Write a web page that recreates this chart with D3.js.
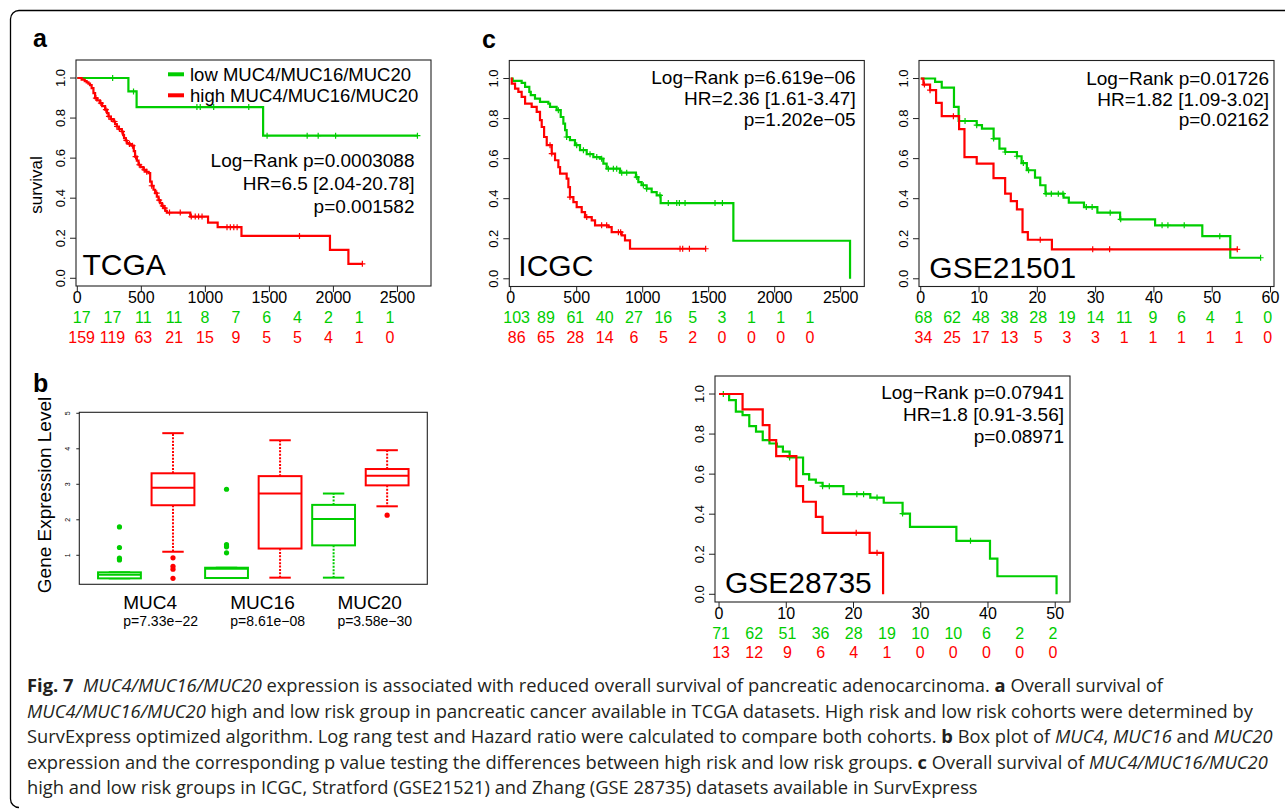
<!DOCTYPE html>
<html>
<head>
<meta charset="utf-8">
<script src="https://cdn.jsdelivr.net/npm/d3@7"></script>
<style>
  body { margin: 0; background: #fff; }
  svg { display: block; }
  text { font-family: "Liberation Sans", Arial, Helvetica, sans-serif; }
</style>
</head>
<body>
<svg id="fig" width="1285" height="810"></svg>
<script>
// ---------------- data ----------------
// TCGA (days)
const tcgaTicks = [0, 500, 1000, 1500, 2000, 2500];
const tcgaLowTimes = [399, 463, 1451];
const tcgaLowSurv = [0.933, 0.855, 0.712];
const tcgaLowEnd = 2656;
const tcgaLowCensor = [276, 439, 934, 960, 1065, 1339, 1482, 1795, 1881, 2017, 2656];
const tcgaHighTimes = [34, 58, 73, 87, 99, 112, 126, 139, 155, 177, 194, 217, 232, 243, 262, 282, 295, 308,
  325, 347, 358, 365, 378, 387, 407, 425, 441, 451, 465, 478, 494, 516, 538, 556, 569, 581, 595, 608, 621,
  634, 647, 661, 673, 688, 699, 882, 1021, 1096, 1282, 1973, 2117];
const tcgaHighSurv = [0.992, 0.985, 0.978, 0.972, 0.965, 0.95, 0.925, 0.90, 0.888, 0.875, 0.86, 0.842, 0.825,
  0.808, 0.795, 0.783, 0.77, 0.758, 0.745, 0.733, 0.715, 0.70, 0.688, 0.675, 0.67, 0.662, 0.635, 0.608, 0.588,
  0.567, 0.555, 0.542, 0.532, 0.525, 0.483, 0.462, 0.442, 0.425, 0.408, 0.39, 0.375, 0.362, 0.35, 0.337, 0.328,
  0.308, 0.278, 0.255, 0.2115, 0.142, 0.072];
const tcgaHighEnd = 2226;
const tcgaHighCensor = [145, 184, 223, 247, 266, 291, 310, 329, 349, 383, 407, 431, 455, 484, 523, 542, 581,
  620, 639, 668, 683, 720, 804, 890, 921, 947, 974, 1169, 1195, 1222, 1248, 1735, 2226];
const tcgaRiskLow = [17, 17, 11, 11, 8, 7, 6, 4, 2, 1, 1];
const tcgaRiskHigh = [159, 119, 63, 21, 15, 9, 5, 5, 4, 1, 0];
const tcgaStats = ["Log\u2212Rank p=0.0003088", "HR=6.5 [2.04-20.78]", "p=0.001582"];

// ICGC (days)
const icgcTicks = [0, 500, 1000, 1500, 2000, 2500];
const icgcLowTimes = [15, 83, 109, 141, 152, 184, 222, 285, 298, 348, 379, 399, 412, 424, 449, 487, 525, 576,
  626, 677, 702, 727, 828, 949, 967, 992, 1030, 1068, 1106, 1136, 1687, 2571];
const icgcLowSurv = [0.988, 0.978, 0.958, 0.933, 0.917, 0.90, 0.883, 0.875, 0.858, 0.842, 0.808, 0.775, 0.742,
  0.708, 0.692, 0.667, 0.642, 0.622, 0.608, 0.60, 0.575, 0.55, 0.53, 0.508, 0.483, 0.467, 0.45, 0.433, 0.417,
  0.378, 0.19, 0.0];
const icgcLowEnd = 2571;
const icgcLowCensor = [361, 424, 500, 551, 601, 652, 689, 740, 778, 803, 841, 879, 955, 1005, 1030, 1131, 1194,
  1258, 1278, 1321, 1548, 1604];
const icgcHighTimes = [8, 33, 58, 83, 109, 159, 197, 222, 235, 253, 273, 311, 336, 361, 374, 424, 437, 449, 475,
  500, 538, 563, 614, 639, 740, 765, 841, 866, 904];
const icgcHighSurv = [0.975, 0.95, 0.933, 0.908, 0.875, 0.858, 0.833, 0.792, 0.758, 0.708, 0.667, 0.625, 0.592,
  0.558, 0.525, 0.50, 0.458, 0.408, 0.383, 0.358, 0.333, 0.308, 0.292, 0.267, 0.258, 0.233, 0.217, 0.192, 0.15];
const icgcHighEnd = 1477;
const icgcHighCensor = [298, 311, 449, 576, 689, 727, 816, 833, 1283, 1303, 1354, 1477];
const icgcRiskLow = [103, 89, 61, 40, 27, 16, 5, 3, 1, 1, 1];
const icgcRiskHigh = [86, 65, 28, 14, 6, 5, 2, 0, 0, 0, 0];
const icgcStats = ["Log\u2212Rank p=6.619e\u221206", "HR=2.36 [1.61-3.47]", "p=1.202e\u221205"];

// GSE21501 (months)
const g215Ticks = [0, 10, 20, 30, 40, 50, 60];
const g215LowTimes = [2.46, 3.6, 5.7, 6.5, 9.6, 10.5, 12.5, 13.5, 14.5, 16.5, 17.3, 18.2, 19.6, 20.5, 21.4,
  24.5, 25.4, 28, 30.3, 34.2, 40.2, 48.3, 53.1];
const g215LowSurv = [0.983, 0.955, 0.858, 0.788, 0.767, 0.75, 0.70, 0.65, 0.633, 0.612, 0.578, 0.542, 0.505,
  0.467, 0.425, 0.405, 0.38, 0.358, 0.33, 0.297, 0.267, 0.213, 0.105];
const g215LowEnd = 58.3;
const g215LowCensor = [7.6, 9.6, 12.5, 14.5, 16.5, 17.6, 18.5, 21.5, 22.4, 23.6, 24.4, 28.4, 29.4, 32.5, 34.3,
  41.4, 42.4, 45.2, 51.3, 58.3];
const g215HighTimes = [0.46, 1.6, 2.63, 3.6, 6.58, 7.5, 9.6, 12.48, 14.48, 15.45, 16.5, 17.46, 18.37, 22.5];
const g215HighSurv = [0.97, 0.942, 0.878, 0.812, 0.747, 0.608, 0.575, 0.503, 0.425, 0.388, 0.347, 0.233, 0.195, 0.147];
const g215HighEnd = 54.3;
const g215HighCensor = [0.63, 1.6, 5.6, 20.5, 29.5, 32.4, 54.3];
const g215RiskLow = [68, 62, 48, 38, 28, 19, 14, 11, 9, 6, 4, 1, 0];
const g215RiskHigh = [34, 25, 17, 13, 5, 3, 3, 1, 1, 1, 1, 1, 0];
const g215Stats = ["Log\u2212Rank p=0.01726", "HR=1.82 [1.09-3.02]", "p=0.02162"];

// GSE28735 (months)
const g287Ticks = [0, 10, 20, 30, 40, 50];
const g287LowTimes = [1.5, 2.5, 3.5, 4.5, 5.5, 6.5, 7.5, 8.6, 9.5, 10.5, 12.5, 13.4, 14.4, 15.4, 18.5, 22.5,
  24.5, 27.3, 28.4, 35.3, 40.3, 41.4, 50.2];
const g287LowSurv = [0.97, 0.912, 0.895, 0.84, 0.812, 0.77, 0.753, 0.737, 0.712, 0.683, 0.60, 0.573, 0.557,
  0.54, 0.50, 0.483, 0.457, 0.403, 0.337, 0.267, 0.178, 0.09, 0.0];
const g287LowEnd = 50.2;
const g287LowCensor = [0.64, 10.5, 15.4, 16.4, 20.5, 21.5, 23.5, 27.3, 37.4];
const g287HighTimes = [3.5, 6.5, 7.5, 8.5, 11.5, 12.5, 14.4, 15.4, 22.4, 24.4];
const g287HighSurv = [0.923, 0.845, 0.77, 0.69, 0.54, 0.462, 0.387, 0.307, 0.207, 0.0];
const g287HighEnd = 24.4;
const g287HighCensor = [20.4, 23.5];
const g287RiskLow = [71, 62, 51, 36, 28, 19, 10, 10, 6, 2, 2];
const g287RiskHigh = [13, 12, 9, 6, 4, 1, 0, 0, 0, 0, 0];
const g287Stats = ["Log\u2212Rank p=0.07941", "HR=1.8 [0.91-3.56]", "p=0.08971"];

// Box plot: [lower whisker, Q1, median, Q3, upper whisker]
const boxGenes = ["MUC4", "MUC16", "MUC20"];
const boxPvalues = ["p=7.33e\u221222", "p=8.61e\u221208", "p=3.58e\u221230"];
const boxLowStats = [[0.35, 0.35, 0.45, 0.52, 0.52], [0.36, 0.36, 0.62, 0.65, 0.65], [0.37, 1.28, 2.02, 2.42, 2.74]];
const boxHighStats = [[1.10, 2.41, 2.90, 3.31, 4.44], [0.37, 1.19, 2.74, 3.23, 4.24], [2.38, 2.97, 3.24, 3.43, 3.96]];
const boxLowOutliers = [[1.80, 1.22, 0.92, 0.87], [2.86, 1.30, 1.24, 1.07], []];
const boxHighOutliers = [[0.93, 0.69, 0.61, 0.35], [], [2.13]];
const boxTicks = [1, 2, 3, 4, 5];

const legendLabels = ["low MUC4/MUC16/MUC20", "high MUC4/MUC16/MUC20"];
const survTicks = [0, 0.2, 0.4, 0.6, 0.8, 1.0];

// ---------------- drawing ----------------
const GREEN = "#00cd00", RED = "#ff0000", INK = "#000";
const svg = d3.select("#fig");
svg.append("rect").attr("width", 1285).attr("height", 810).attr("fill", "#fff");

// figure frame (rounded top-left corner)
svg.append("path")
  .attr("d", "M1285,10.5 H19 A8.5,8.5 0 0 0 10.5,19 V799 A8.5,8.5 0 0 0 19,807.5")
  .attr("fill", "none").attr("stroke", "#000").attr("stroke-width", 1.3);

function stepPoints(times, surv, end) {
  const pts = [[0, 1]];
  times.forEach((t, i) => pts.push([t, surv[i]]));
  pts.push([end, surv[surv.length - 1]]);
  return pts;
}
function survAt(times, surv, t) {
  const i = d3.bisectRight(times, t);
  return i === 0 ? 1 : surv[i - 1];
}

const BW = 355, BH = 226;

function drawKM(p) {
  const g = svg.append("g");
  const x = d3.scaleLinear().domain(p.xDomain).range([p.left, p.left + BW]);
  const y = d3.scaleLinear().domain([-0.0385, 1.09]).range([p.top + BH, p.top]);
  const bottom = p.top + BH;

  g.append("rect").attr("x", p.left).attr("y", p.top).attr("width", BW).attr("height", BH)
    .attr("fill", "none").attr("stroke", "#222").attr("stroke-width", 1.1);

  const xa = g.append("g");
  xa.selectAll("line").data(p.xTicks).join("line")
    .attr("x1", d => x(d)).attr("x2", d => x(d)).attr("y1", bottom).attr("y2", bottom + 6)
    .attr("stroke", "#222").attr("stroke-width", 1);
  xa.selectAll("text").data(p.xTicks).join("text")
    .attr("x", d => x(d)).attr("y", bottom + 11).attr("dy", "0.36em")
    .attr("text-anchor", "middle").attr("font-size", 16).attr("fill", INK).text(d => d);

  const ya = g.append("g");
  ya.selectAll("line").data(survTicks).join("line")
    .attr("x1", p.left).attr("x2", p.left - 6).attr("y1", d => y(d)).attr("y2", d => y(d))
    .attr("stroke", "#222").attr("stroke-width", 1);
  ya.selectAll("text").data(survTicks).join("text")
    .attr("transform", d => `translate(${p.left - 16},${y(d)}) rotate(-90)`)
    .attr("dy", "0.36em").attr("text-anchor", "middle").attr("font-size", 13).attr("fill", INK)
    .text(d => d.toFixed(1));

  const line = d3.line().x(d => x(d[0])).y(d => y(d[1])).curve(d3.curveStepAfter);
  p.series.forEach(s => {
    g.append("path").datum(stepPoints(s.times, s.surv, s.end)).attr("d", line)
      .attr("fill", "none").attr("stroke", s.color).attr("stroke-width", 2.2);
    g.append("g").selectAll("path").data(s.censor).join("path")
      .attr("d", t => {
        const cx = x(t), cy = y(survAt(s.times, s.surv, t));
        return `M${cx - 3},${cy}H${cx + 3}M${cx},${cy - 3}V${cy + 3}`;
      })
      .attr("stroke", s.color).attr("stroke-width", 1.2);
  });

  g.selectAll("text.stat").data(p.stats).join("text").attr("class", "stat")
    .attr("x", p.left + BW - p.statsInset).attr("y", (d, i) => p.top + p.statsY0 + i * p.statsDy)
    .attr("dy", "0.36em").attr("text-anchor", "end").attr("font-size", 19).attr("fill", INK).text(d => d);

  g.append("text").attr("x", p.left + p.nameDx).attr("y", p.top + p.nameDy)
    .attr("font-size", 30).attr("fill", INK).text(p.name);

  p.series.forEach((s, k) => {
    const n = s.risk.length;
    const rx = d3.scaleLinear().domain([0, n - 1]).range([x(p.riskFrom), x(p.riskTo)]);
    g.append("g").selectAll("text").data(s.risk).join("text")
      .attr("x", (d, i) => rx(i)).attr("y", p.top + p.riskY[k]).attr("dy", "0.36em")
      .attr("text-anchor", "middle").attr("font-size", 16).attr("fill", s.color).text(d => d);
  });
  return { g, x, y };
}

// a: TCGA
const pa = drawKM({
  left: 76, top: 60, xDomain: [-10.2, 2762], xTicks: tcgaTicks,
  series: [
    { times: tcgaLowTimes, surv: tcgaLowSurv, end: tcgaLowEnd, censor: tcgaLowCensor, color: GREEN, risk: tcgaRiskLow },
    { times: tcgaHighTimes, surv: tcgaHighSurv, end: tcgaHighEnd, censor: tcgaHighCensor, color: RED, risk: tcgaRiskHigh }
  ],
  stats: tcgaStats, statsInset: 16.5, statsY0: 100.5, statsDy: 23,
  name: "TCGA", nameDx: 6.5, nameDy: 215,
  riskFrom: 34, riskTo: 2442, riskY: [257.7, 277.3]
});
[GREEN, RED].forEach((c, i) => {
  pa.g.append("line").attr("x1", 168).attr("x2", 184).attr("y1", 74.3 + i * 21).attr("y2", 74.3 + i * 21)
    .attr("stroke", c).attr("stroke-width", 4);
  pa.g.append("text").attr("x", 190).attr("y", 74.3 + i * 21).attr("dy", "0.36em")
    .attr("font-size", 18.5).attr("fill", INK).text(legendLabels[i]);
});
svg.append("text").attr("transform", "translate(36,185) rotate(-90)").attr("dy", "0.36em")
  .attr("text-anchor", "middle").attr("font-size", 17).attr("fill", INK).text("survival");

// c: ICGC, GSE21501, GSE28735
drawKM({
  left: 509.3, top: 60.5, xDomain: [-10.6, 2679], xTicks: icgcTicks,
  series: [
    { times: icgcLowTimes, surv: icgcLowSurv, end: icgcLowEnd, censor: icgcLowCensor, color: GREEN, risk: icgcRiskLow },
    { times: icgcHighTimes, surv: icgcHighSurv, end: icgcHighEnd, censor: icgcHighCensor, color: RED, risk: icgcRiskHigh }
  ],
  stats: icgcStats, statsInset: 8.6, statsY0: 16.2, statsDy: 21.4,
  name: "ICGC", nameDx: 9, nameDy: 215.5,
  riskFrom: 45, riskTo: 2268, riskY: [256.8, 276.8]
});
drawKM({
  left: 919, top: 60.5, xDomain: [-0.3, 60.6], xTicks: g215Ticks,
  series: [
    { times: g215LowTimes, surv: g215LowSurv, end: g215LowEnd, censor: g215LowCensor, color: GREEN, risk: g215RiskLow },
    { times: g215HighTimes, surv: g215HighSurv, end: g215HighEnd, censor: g215HighCensor, color: RED, risk: g215RiskHigh }
  ],
  stats: g215Stats, statsInset: 5, statsY0: 17.8, statsDy: 20.6,
  name: "GSE21501", nameDx: 10.3, nameDy: 217.5,
  riskFrom: 0.46, riskTo: 59.5, riskY: [256.8, 276.8]
});
drawKM({
  left: 715, top: 376, xDomain: [-0.6, 52.2], xTicks: g287Ticks,
  series: [
    { times: g287LowTimes, surv: g287LowSurv, end: g287LowEnd, censor: g287LowCensor, color: GREEN, risk: g287RiskLow },
    { times: g287HighTimes, surv: g287HighSurv, end: g287HighEnd, censor: g287HighCensor, color: RED, risk: g287RiskHigh }
  ],
  stats: g287Stats, statsInset: 6, statsY0: 15.7, statsDy: 22.2,
  name: "GSE28735", nameDx: 10, nameDy: 217.3,
  riskFrom: 0.3, riskTo: 49.65, riskY: [257.3, 276.7]
});

// b: box plot
(function () {
  const g = svg.append("g");
  const x = d3.scaleLinear().domain([0.25, 6.75]).range([79.3, 427.3]);
  const y = d3.scaleLinear().domain([0.183, 5.028]).range([584.3, 412.3]);
  const half = 0.4, cap = 0.2;
  g.append("rect").attr("x", 79.3).attr("y", 412.3).attr("width", 348).attr("height", 172)
    .attr("fill", "none").attr("stroke", "#222").attr("stroke-width", 1.1);
  g.selectAll("line.tk").data(boxTicks).join("line").attr("class", "tk")
    .attr("x1", 79.3).attr("x2", 76.3).attr("y1", d => y(d)).attr("y2", d => y(d))
    .attr("stroke", "#222").attr("stroke-width", 1);
  g.selectAll("text.tk").data(boxTicks).join("text").attr("class", "tk")
    .attr("transform", d => `translate(67,${y(d)}) rotate(-90)`).attr("dy", "0.36em")
    .attr("text-anchor", "middle").attr("font-size", 7).attr("fill", INK).text(d => d);

  const boxes = [];
  boxGenes.forEach((gene, i) => {
    boxes.push({ pos: 2 * i + 1, s: boxLowStats[i], out: boxLowOutliers[i], color: GREEN });
    boxes.push({ pos: 2 * i + 2, s: boxHighStats[i], out: boxHighOutliers[i], color: RED });
  });
  boxes.forEach(b => {
    const [lo, q1, med, q3, hi] = b.s;
    const bg = g.append("g").attr("stroke", b.color).attr("fill", "none").attr("stroke-width", 2);
    bg.append("line").attr("x1", x(b.pos)).attr("x2", x(b.pos)).attr("y1", y(q3)).attr("y2", y(hi))
      .attr("stroke-dasharray", "2,1.4");
    bg.append("line").attr("x1", x(b.pos)).attr("x2", x(b.pos)).attr("y1", y(q1)).attr("y2", y(lo))
      .attr("stroke-dasharray", "2,1.4");
    [lo, hi].forEach(v => bg.append("line").attr("x1", x(b.pos - cap)).attr("x2", x(b.pos + cap))
      .attr("y1", y(v)).attr("y2", y(v)));
    bg.append("rect").attr("x", x(b.pos - half)).attr("y", y(q3))
      .attr("width", x(b.pos + half) - x(b.pos - half)).attr("height", y(q1) - y(q3)).attr("fill", "#fff");
    bg.append("line").attr("x1", x(b.pos - half)).attr("x2", x(b.pos + half)).attr("y1", y(med)).attr("y2", y(med));
    g.append("g").selectAll("circle").data(b.out).join("circle")
      .attr("cx", x(b.pos)).attr("cy", d => y(d)).attr("r", 2.6).attr("fill", b.color);
  });

  boxGenes.forEach((gene, i) => {
    const cx = x(2 * i + 1.5) - 23;
    g.append("text").attr("x", cx).attr("y", 609).attr("font-size", 19).attr("fill", INK).text(gene);
    g.append("text").attr("x", cx).attr("y", 625.5).attr("font-size", 14).attr("fill", INK).text(boxPvalues[i]);
  });
  g.append("text").attr("transform", "translate(44,495) rotate(-90)").attr("dy", "0.36em")
    .attr("text-anchor", "middle").attr("font-size", 19).attr("fill", INK).text("Gene Expression Level");
})();

// panel letters
[["a", 33, 47], ["b", 33, 391.5], ["c", 482, 47.5]].forEach(([t, px, py]) =>
  svg.append("text").attr("x", px).attr("y", py).attr("font-size", 25).attr("font-weight", 700)
    .attr("fill", INK).text(t));

// caption: a single horizontal squeeze for all lines keeps the glyphs uniform
const captionLines = [
  [["b", "Fig. 7"], ["", "  "], ["i", "MUC4/MUC16/MUC20"], ["", " expression is associated with reduced overall survival of pancreatic adenocarcinoma. "], ["b", "a"], ["", " Overall survival of"]],
  [["i", "MUC4/MUC16/MUC20"], ["", " high and low risk group in pancreatic cancer available in TCGA datasets. High risk and low risk cohorts were determined by"]],
  [["", "SurvExpress optimized algorithm. Log rang test and Hazard ratio were calculated to compare both cohorts. "], ["b", "b"], ["", " Box plot of "], ["i", "MUC4"], ["", ", "], ["i", "MUC16"], ["", " and "], ["i", "MUC20"]],
  [["", "expression and the corresponding p value testing the differences between high risk and low risk groups. "], ["b", "c"], ["", " Overall survival of "], ["i", "MUC4/MUC16/MUC20"]],
  [["", "high and low risk groups in ICGC, Stratford (GSE21521) and Zhang (GSE 28735) datasets available in SurvExpress"]]
];
const captionWidestLine = 1246;   // the third line spans the full text block
const capNodes = captionLines.map((parts, i) => {
  const t = svg.append("text").attr("x", 0).attr("y", 0)
    .attr("font-size", 17.5).attr("fill", "#231f20")
    .style("font-family", "'Open Sans', 'Noto Sans', sans-serif")
    .attr("xml:space", "preserve");
  parts.forEach(([st, s]) => {
    const ts = t.append("tspan").text(s);
    if (st === "b") ts.attr("font-weight", 700);
    if (st === "i") ts.attr("font-style", "italic");
  });
  return t;
});
const capScale = captionWidestLine / capNodes[2].node().getComputedTextLength();
capNodes.forEach((t, i) => t.attr("transform", `translate(27,${692 + i * 25.6}) scale(${capScale},1)`));
</script>
</body>
</html>
